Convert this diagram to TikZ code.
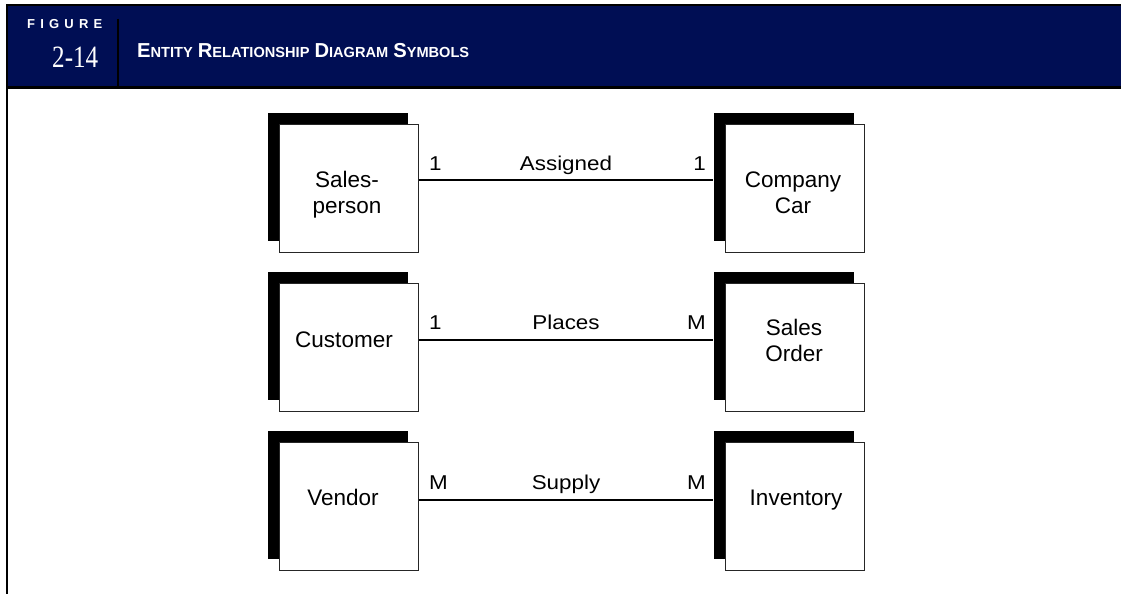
\documentclass[tikz,border=0pt]{standalone}
\usepackage{fontspec}
\setmainfont{Liberation Sans}
\newfontfamily\serifnum{Liberation Serif}
\newfontfamily\lblfont[FakeStretch=1.12]{Liberation Sans}
\newfontfamily\figfont[LetterSpace=40]{Liberation Sans}
\definecolor{navy}{RGB}{0,14,84}
\newcommand{\capsc}[2]{{\fontsize{20.2}{21}\selectfont #1}{\fontsize{14.6}{16}\selectfont #2}}
\begin{document}
\begin{tikzpicture}[x=1pt,y=-1pt,
  entity/.style={draw=black!85, line width=0.8pt, fill=white, minimum width=139pt, minimum height=128pt, inner sep=0pt},
  shade/.style={fill=black, minimum width=140pt, minimum height=128pt, inner sep=0pt},
  etext/.style={font=\fontsize{22.5}{26}\selectfont, align=center, inner sep=0pt, anchor=base},
  rlabel/.style={font=\lblfont\fontsize{20}{22}\selectfont, inner sep=0pt},
  rel/.style={line width=2pt}]
\useasboundingbox (0,0) rectangle (1121,594);
% header
\fill[navy] (6,5) rectangle (1121,87);
\draw[line width=2pt] (1121,5) -- (6.5,5) -- (6.5,594);
\draw[line width=2.5pt] (6,87.3) -- (1121,87.3);
\draw[line width=2pt] (117.5,19) -- (117.5,87);
\node[anchor=base west, inner sep=0pt, text=white, font=\figfont\bfseries\fontsize{13}{14}\selectfont] (fig) at (27,29) {FIGURE};
\node[anchor=base west, inner sep=0pt, text=white] (num) at (52,67) {\scalebox{0.81}[1]{\serifnum\fontsize{31}{31}\selectfont 2-14}};
\node[anchor=base west, inner sep=0pt, text=white, font=\bfseries\fontsize{18}{20}\selectfont] (title) at (137,57)
  {\capsc{E}{NTITY} \capsc{R}{ELATIONSHIP} \capsc{D}{IAGRAM} \capsc{S}{YMBOLS}};
% row coordinates
\coordinate (r1) at (0,180);
\coordinate (r2) at (0,340);
\coordinate (r3) at (0,500);
% shadows
\node[shade] (sps) at (337.5,177) {};
\node[shade] (cars) at (783.5,177) {};
\node[shade] (cus) at (337.5,335.5) {};
\node[shade] (sos) at (783.5,335.5) {};
\node[shade] (vens) at (337.5,495) {};
\node[shade] (invs) at (783.5,495) {};
% entities
\node[entity] (sp) at (349,188.5) {};
\node[entity] (car) at (795,188.5) {};
\node[entity] (cu) at (349,347) {};
\node[entity] (so) at (795,347) {};
\node[entity] (ven) at (349,506.5) {};
\node[entity] (inv) at (795,506.5) {};
% entity texts (base anchor = baseline of last line)
\node[etext] (spt) at (347,213) {Sales-\\person};
\node[etext] (cart) at (793,213) {Company\\Car};
\node[etext] (cut) at (344,347) {Customer};
\node[etext] (sot) at (794,361.5) {Sales\\Order};
\node[etext] (vent) at (343,505) {Vendor};
\node[etext] (invt) at (796,505) {Inventory};
% relationships
\draw[rel] (sp.east |- r1) -- (cars.west |- r1);
\draw[rel] (cu.east |- r2) -- (sos.west |- r2);
\draw[rel] (ven.east |- r3) -- (invs.west |- r3);
% labels
\node[rlabel, anchor=base west] (l1a) at (429,170) {1};
\node[rlabel, anchor=base] (l1b) at (566,170) {Assigned};
\node[rlabel, anchor=base east] (l1c) at (706,170) {1};
\node[rlabel, anchor=base west] (l2a) at (429,329) {1};
\node[rlabel, anchor=base] (l2b) at (566,329) {Places};
\node[rlabel, anchor=base east] (l2c) at (706,329) {M};
\node[rlabel, anchor=base west] (l3a) at (429,489) {M};
\node[rlabel, anchor=base] (l3b) at (566,489) {Supply};
\node[rlabel, anchor=base east] (l3c) at (706,489) {M};
\end{tikzpicture}
\end{document}
